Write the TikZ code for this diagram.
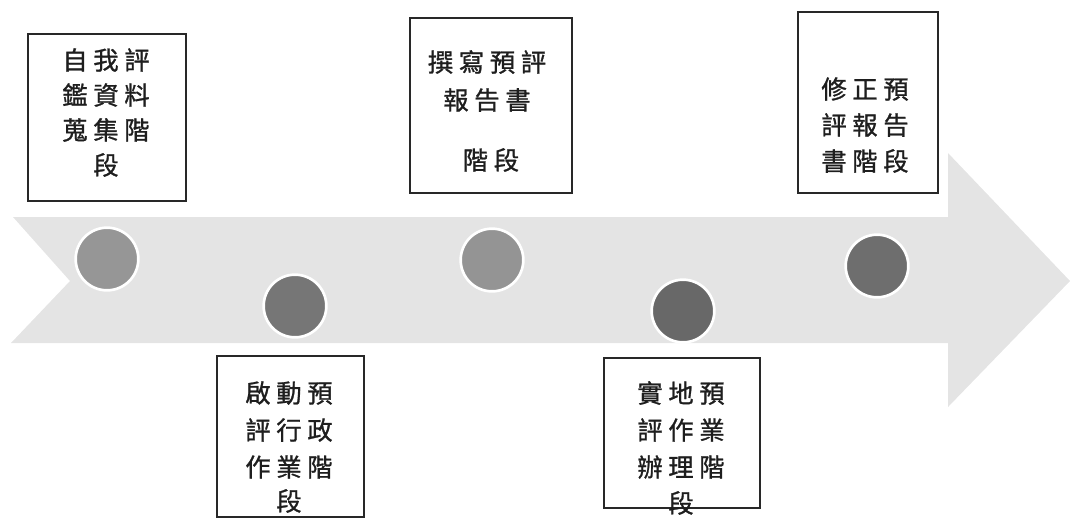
\documentclass[tikz,border=0pt]{standalone}
\usepackage{fontspec}
\newfontfamily\cjk[FakeBold=1]{Noto Sans CJK TC}
\definecolor{arrowgray}{RGB}{228,228,228}
\definecolor{boxline}{RGB}{40,40,40}
\definecolor{txt}{RGB}{30,30,30}
\definecolor{dotA}{RGB}{150,150,150}
\definecolor{dotB}{RGB}{118,118,118}
\definecolor{dotC}{RGB}{148,148,148}
\definecolor{dotD}{RGB}{104,104,104}
\definecolor{dotE}{RGB}{110,110,110}
\begin{document}
\begin{tikzpicture}[x=0.75pt,y=-0.75pt,
  stagebox/.style={draw=boxline, line width=1.2pt, fill=white, inner sep=0pt},
  zh/.style={font=\cjk\fontsize{19}{22}\selectfont, inner sep=0pt, text=txt},
  dot/.style={circle, draw=white, line width=2pt, minimum size=47pt, inner sep=0pt}]
\useasboundingbox (0,0) rectangle (1070,519);
% big arrow
\fill[arrowgray] (13,217) -- (948,217) -- (948,153) -- (1070,281) -- (948,407)
  -- (948,343) -- (11,343) -- (70,281) -- cycle;
% dots
\node[dot, fill=dotA] (d1) at (107,259) {};
\node[dot, fill=dotB] (d2) at (295,306) {};
\node[dot, fill=dotC] (d3) at (492,260) {};
\node[dot, fill=dotD] (d4) at (683,311) {};
\node[dot, fill=dotE] (d5) at (877,266) {};
% boxes
\node[stagebox, minimum width=118.5pt, minimum height=125.25pt] (b1) at (107,117.5) {};
\node[stagebox, minimum width=121.5pt, minimum height=131.25pt] (b2) at (491,105.5) {};
\node[stagebox, minimum width=105pt, minimum height=135.75pt] (b3) at (868,102.5) {};
\node[stagebox, minimum width=110.25pt, minimum height=120.75pt] (b4) at (290.5,436.5) {};
\node[stagebox, minimum width=117pt, minimum height=112.5pt] (b5) at (682,433) {};
% texts box 1
\node[zh] (t11) at (106,60) {自 我 評};
\node[zh] (t12) at (106,95) {鑑 資 料};
\node[zh] (t13) at (106,130) {蒐 集 階};
\node[zh] (t14) at (106,165) {段};
% box 2
\node[zh] (t21) at (487,62) {撰 寫 預 評};
\node[zh] (t22) at (487,100) {報 告 書};
\node[zh] (t23) at (491,160) {階 段};
% box 3
\node[zh] (t31) at (865,89) {修 正 預};
\node[zh] (t32) at (865,125) {評 報 告};
\node[zh] (t33) at (865,161) {書 階 段};
% box 4
\node[zh] (t41) at (289,393) {啟 動 預};
\node[zh] (t42) at (289,430) {評 行 政};
\node[zh] (t43) at (289,467) {作 業 階};
\node[zh] (t44) at (289,501) {段};
% box 5
\node[zh] (t51) at (681,393) {實 地 預};
\node[zh] (t52) at (681,430) {評 作 業};
\node[zh] (t53) at (681,467) {辦 理 階};
\node[zh] (t54) at (681,503) {段};
\end{tikzpicture}
\end{document}
